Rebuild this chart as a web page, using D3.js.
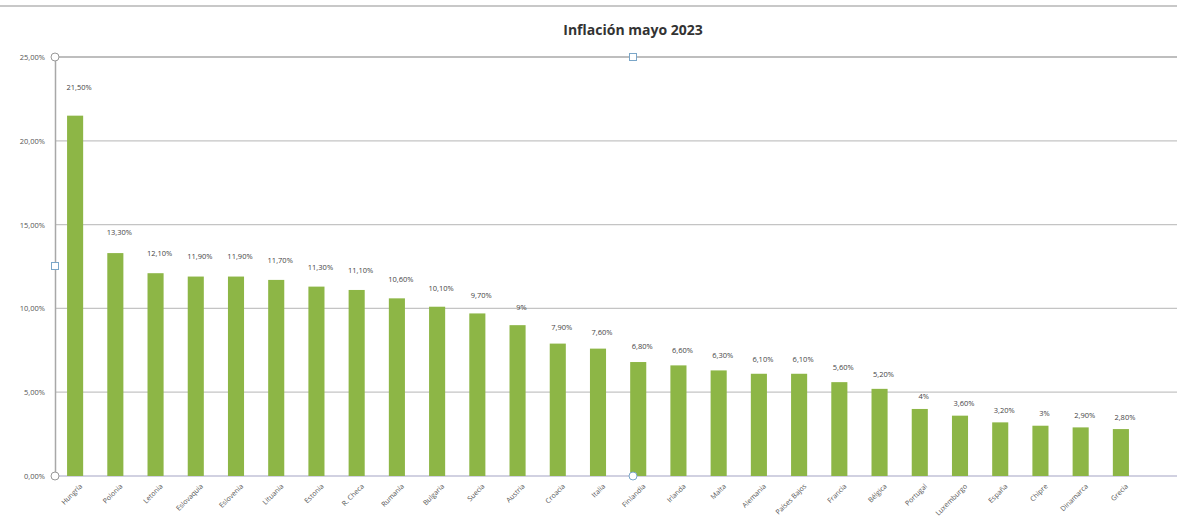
<!DOCTYPE html>
<html><head><meta charset="utf-8">
<script src="https://cdn.jsdelivr.net/npm/d3@7"></script>
<style>body{margin:0;background:#fff;}svg{display:block;font-family:"Open Sans","DejaVu Sans",sans-serif;}</style>
</head><body>
<script>
const countries = ["Hungría","Polonia","Letonia","Eslovaquia","Eslovenia","Lituania","Estonia","R. Checa","Rumanía","Bulgaria","Suecia","Austria","Croacia","Italia","Finlandia","Irlanda","Malta","Alemania","Países Bajos","Francia","Bélgica","Portugal","Luxemburgo","España","Chipre","Dinamarca","Grecia"];
const values = [21.5,13.3,12.1,11.9,11.9,11.7,11.3,11.1,10.6,10.1,9.7,9,7.9,7.6,6.8,6.6,6.3,6.1,6.1,5.6,5.2,4,3.6,3.2,3,2.9,2.8];
const yTicks = [0,5,10,15,20,25];
const title = "Inflación mayo 2023";

const W=1177,H=520;
const svg=d3.select("body").append("svg").attr("width",W).attr("height",H);
const x=d3.scaleBand().domain(countries).range([55,1141]).paddingInner(0.6).paddingOuter(0.3);
const y=d3.scaleLinear().domain([0,25]).range([476,57]);
const fmt=v=>Number.isInteger(v)?v+"%":v.toFixed(2).replace(".",",")+"%";
const fmtAxis=v=>v.toFixed(2).replace(".",",")+"%";

// top strip line
svg.append("line").attr("x1",0).attr("x2",W).attr("y1",6).attr("y2",6).attr("stroke","#c8c8c8").attr("stroke-width",2);

// title
svg.append("text").attr("x",633).attr("y",35).attr("text-anchor","middle")
  .attr("font-size",14).attr("font-weight","bold").attr("fill","#333").text(title);

// grid
svg.append("g").selectAll("line").data(yTicks).join("line")
  .attr("x1",55).attr("x2",W).attr("y1",d=>y(d)).attr("y2",d=>y(d))
  .attr("stroke",d=>d===0?"#a4a4c4":(d===25?"#a8a8a8":"#c4c4c4")).attr("stroke-width",d=>d===25?1.5:1.2);

// y axis
const yAxis=d3.axisLeft(y).tickValues(yTicks).tickFormat(fmtAxis).tickSize(0).tickPadding(10);
const gy=svg.append("g").attr("transform","translate(55,0)").call(yAxis);
gy.select(".domain").attr("stroke","#a8a8a8").attr("stroke-width",1.5);
gy.selectAll("text").attr("font-size",7.5).attr("fill","#555").attr("font-family","'Open Sans',sans-serif");

// bars
svg.append("g").selectAll("rect").data(values).join("rect")
  .attr("x",(d,i)=>x(countries[i])).attr("width",x.bandwidth())
  .attr("y",d=>y(d)).attr("height",d=>y(0)-y(d)).attr("fill","#8db646");

// value labels
svg.append("g").selectAll("text").data(values).join("text")
  .attr("x",(d,i)=>x(countries[i])+x.bandwidth()/2+4)
  .attr("y",d=>y(d*1.051)-7)
  .attr("text-anchor","middle").attr("font-size",7.5).attr("fill","#444").text(fmt);

// x labels
const xAxis=d3.axisBottom(x).tickSize(0).tickPadding(0);
const gx=svg.append("g").attr("transform","translate(0,476)").call(xAxis);
gx.select(".domain").remove();
gx.selectAll("text").attr("font-size",7).attr("fill","#555").attr("font-family","'Open Sans',sans-serif")
  .attr("text-anchor","end").attr("transform","translate(6,9) rotate(-45)").attr("dy","0.35em");

// selection handles
const handles=[[55,57,"c"],[55,266,"s"],[55,476,"c"],[633,57,"s"],[633,476,"cb"]];
handles.forEach(h=>{
  if(h[2]==="s"){
    svg.append("rect").attr("x",h[0]-3.5).attr("y",h[1]-3.5).attr("width",7).attr("height",7)
      .attr("fill","#fff").attr("stroke","#7aa6c8").attr("stroke-width",1);
  } else {
    svg.append("circle").attr("cx",h[0]).attr("cy",h[1]).attr("r",4)
      .attr("fill","#fff").attr("stroke",h[2]==="cb"?"#7aa6c8":"#999").attr("stroke-width",1);
  }
});
</script>
</body></html>
